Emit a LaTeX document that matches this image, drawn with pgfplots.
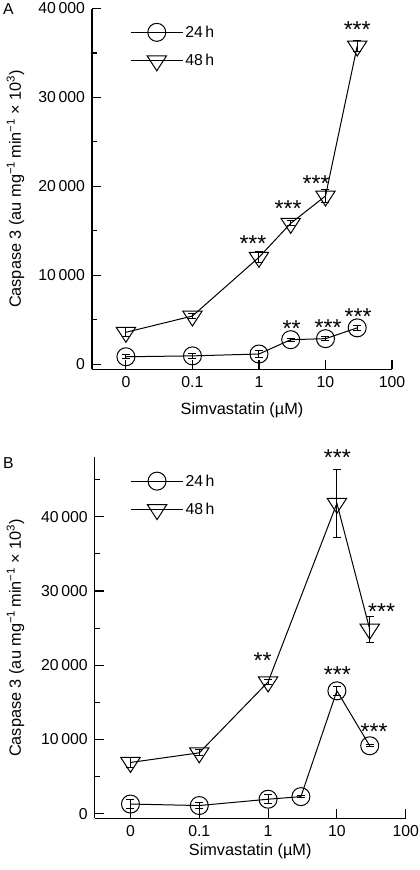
\documentclass[border=0pt]{standalone}
\usepackage{fontspec}
\setmainfont{Liberation Sans}
\usepackage{pgfplots}
\pgfplotsset{compat=1.18}
\tikzset{star/.style={font=\fontsize{23}{23}\selectfont, anchor=center, inner sep=0pt, yshift=-5pt}}
\begin{document}
\begin{tikzpicture}
\path[use as bounding box] (0pt,0pt) rectangle (420pt,-870pt);
\pgfplotsset{
  panel/.style={
    scale only axis, axis lines=left, axis line style={-, line width=1.1pt},
    tick align=inside, major tick length=9pt, minor tick length=5pt,
    tick style={line width=1.1pt, black},
    xtick={0,1,2,3,4}, xticklabels={0,0.1,1,10,100},
    xmax=4,
    scaled y ticks=false,
    ytick={0,10000,20000,30000,40000},
    minor ytick={5000,15000,25000,35000,45000},
    yticklabel style={/pgf/number format/fixed, /pgf/number format/1000 sep={\,}, /pgf/number format/assume math mode=true, font=\fontsize{15.8}{18}\selectfont, xshift=-3.5pt},
    xticklabel style={font=\fontsize{15.8}{18}\selectfont, yshift=-3.8pt},
    xlabel={Simvastatin (µM)},
    ylabel={Caspase 3 (au mg\textsuperscript{−1}\,min\textsuperscript{−1} × 10\textsuperscript{3})},
    label style={font=\fontsize{16.3}{19}\selectfont},
    ylabel style={at={(axis description cs:-0.255,0.5)}, anchor=center},
    clip=false,
    legend style={draw=none, fill=none, anchor=north west, font=\fontsize{15.8}{18}\selectfont, row sep=11pt},
    legend cell align=left,
    legend image code/.code={\draw[mark repeat=2,mark phase=2,##1] plot coordinates {(0pt,0pt)(26pt,0pt)(52pt,0pt)};},
    error bars/error bar style={line width=1pt, black},
    error bars/error mark options={rotate=90, mark size=4pt, line width=1pt, black},
  },
  h24/.style={black, line width=1pt, mark=o, mark size=9pt, mark options={solid, fill=none, line width=1pt},
    error bars/.cd, y dir=both, y explicit},
  h48/.style={black, line width=1pt, mark=triangle, mark size=10pt, mark options={solid, fill=none, line width=1pt, rotate=180, xscale=1.12},
    error bars/.cd, y dir=both, y explicit},
}
% Panel A
\begin{axis}[panel, at={(92pt,-369.3pt)}, anchor=south west, width=300pt, height=360.8pt,
  xmin=-0.51, ymin=-560, ymax=40000,
  xlabel style={at={(axis description cs:0.5,-0.1128)}, anchor=center},
  legend style={at={(axis description cs:0.117,0.965)}}]
\addplot+[h24] coordinates {(0,850) +- (0,250) (1,950) +- (0,250) (2,1160) +- (0,350) (2.477,2770) +- (0,150) (3,2885) +- (0,250) (3.477,4100) +- (0,300)};
\addlegendentry{24\,h}
\addplot+[h48] coordinates {(0,3600) +- (0,500) (1,5430) +- (0,300) (2,12030) +- (0,600) (2.477,15850) +- (0,300) (3,18920) +- (0,700) (3.477,35780) +- (0,600)};
\addlegendentry{48\,h}
\node[star] at (axis cs:1.91,14160) {***};
\node[star] at (axis cs:2.437,18020) {***};
\node[star] at (axis cs:2.86,20900) {***};
\node[star] at (axis cs:3.477,38145) {***};
\node[star] at (axis cs:2.49,4530) {**};
\node[star] at (axis cs:3.04,4680) {***};
\node[star] at (axis cs:3.49,5920) {***};
\end{axis}
% Panel B
\begin{axis}[panel, at={(94.7pt,-818.3pt)}, anchor=south west, width=311pt, height=361pt,
  xmin=-0.52, ymin=-620, ymax=48000,
  xlabel style={at={(axis description cs:0.5,-0.0925)}, anchor=center},
  legend style={at={(axis description cs:0.105,0.965)}}]
\addplot+[h24] coordinates {(0,1300) +- (0,550) (1,1100) +- (0,400) (2,1950) +- (0,600) (2.477,2300) +- (0,100) (3,16550) +- (0,600) (3.477,9150) +- (0,150)};
\addlegendentry{24\,h}
\addplot+[h48] coordinates {(0,6900) +- (0,650) (1,8200) +- (0,400) (2,17750) +- (0,300) (3,41800) +- (0,4600) (3.477,24850) +- (0,1750)};
\addlegendentry{48\,h}
\node[star] at (axis cs:1.92,21250) {**};
\node[star] at (axis cs:3.007,48570) {***};
\node[star] at (axis cs:3.65,27900) {***};
\node[star] at (axis cs:3.007,19370) {***};
\node[star] at (axis cs:3.54,11730) {***};
\end{axis}
\node[font=\fontsize{15.8}{18}\selectfont, anchor=center, inner sep=0pt] at (8.3pt,-8.7pt) {A};
\node[font=\fontsize{15.8}{18}\selectfont, anchor=center, inner sep=0pt] at (8.3pt,-463pt) {B};
\end{tikzpicture}
\end{document}
